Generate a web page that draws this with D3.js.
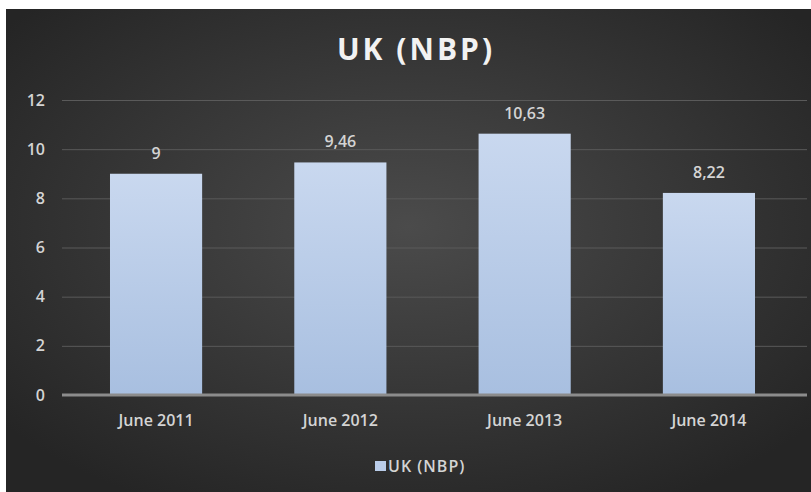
<!DOCTYPE html>
<html>
<head>
<meta charset="utf-8">
<script src="https://cdn.jsdelivr.net/npm/d3@7"></script>
<style>
  body { margin: 0; background: #fff; }
  svg { display: block; font-family: "Open Sans", "Noto Sans", sans-serif; }
</style>
</head>
<body>
<div id="grafico"></div>
<script>
// data
var categories = ["June 2011", "June 2012", "June 2013", "June 2014"];
var values = [9, 9.46, 10.63, 8.22];
var valueLabels = ["9", "9,46", "10,63", "8,22"];
var yTicks = [0, 2, 4, 6, 8, 10, 12];
var seriesName = "UK (NBP)";

var W = 811, H = 492;
var margin = {top: 100, right: 4, bottom: 97, left: 62};
var width = W - margin.left - margin.right,
    height = H - margin.top - margin.bottom;

var svg = d3.select("#grafico").append("svg")
  .attr("width", W).attr("height", H);

var defs = svg.append("defs");
var bg = defs.append("radialGradient").attr("id", "bg")
  .attr("cx", "50%").attr("cy", "45%").attr("r", "65%");
bg.append("stop").attr("offset", "0%").attr("stop-color", "#4b4b4b");
bg.append("stop").attr("offset", "100%").attr("stop-color", "#252525");

var barGrad = defs.append("linearGradient").attr("id", "barg")
  .attr("x1", 0).attr("y1", 0).attr("x2", 0).attr("y2", 1);
barGrad.append("stop").attr("offset", "0%").attr("stop-color", "#c9d8ef");
barGrad.append("stop").attr("offset", "100%").attr("stop-color", "#a8bfe0");

// background
svg.append("rect").attr("x", 6).attr("y", 9).attr("width", W - 6).attr("height", H - 9)
  .attr("fill", "url(#bg)");

var g = svg.append("g")
  .attr("transform", "translate(" + margin.left + "," + margin.top + ")");

var x = d3.scaleBand().domain(categories).range([1, 740]).paddingInner(0.5).paddingOuter(0.255);
var y = d3.scaleLinear().domain([0, 12]).range([height, 0]);

// grid
g.append("g")
  .call(d3.axisLeft(y).tickValues(yTicks).tickSize(-width).tickFormat(""))
  .call(function(s) {
    s.select(".domain").remove();
    s.selectAll("line").attr("stroke", "#5a5a5a").attr("stroke-width", 1);
  });

// y labels
g.append("g")
  .call(d3.axisLeft(y).tickValues(yTicks).tickSize(0).tickPadding(17))
  .call(function(s) {
    s.select(".domain").remove();
    s.selectAll("text").attr("fill", "#d4d4d4").attr("font-size", 16).attr("font-weight", 600)
      .attr("font-family", "Open Sans, sans-serif");
  });

// bars
g.selectAll(".bar").data(values).enter().append("rect")
  .attr("class", "bar")
  .attr("x", function(d, i) { return x(categories[i]); })
  .attr("y", function(d) { return y(d); })
  .attr("width", x.bandwidth())
  .attr("height", function(d) { return height - y(d); })
  .attr("fill", "url(#barg)");

// value labels
g.selectAll(".lbl").data(values).enter().append("text")
  .attr("x", function(d, i) { return x(categories[i]) + x.bandwidth() / 2; })
  .attr("y", function(d) { return y(d) - 15; })
  .attr("text-anchor", "middle")
  .attr("fill", "#d4d4d4")
  .attr("font-size", 16)
  .attr("font-weight", 600)
  .text(function(d, i) { return valueLabels[i]; });

// x axis
g.append("g")
  .attr("transform", "translate(0," + height + ")")
  .call(d3.axisBottom(x).tickSize(0).tickPadding(20))
  .call(function(s) {
    s.select(".domain").remove();
    s.selectAll("text").attr("fill", "#d4d4d4").attr("font-size", 16).attr("font-weight", 600)
      .attr("font-family", "Open Sans, sans-serif");
  });
g.append("line")
  .attr("x1", 0).attr("x2", width)
  .attr("y1", height).attr("y2", height)
  .attr("stroke", "#8c8c8c").attr("stroke-width", 3);

// title
svg.append("text")
  .attr("x", 416).attr("y", 60)
  .attr("text-anchor", "middle")
  .attr("fill", "#f2f2f2")
  .attr("font-size", 30)
  .attr("font-weight", 700)
  .attr("letter-spacing", 3)
  .text(seriesName);

// legend
var leg = svg.append("g").attr("transform", "translate(375,472)");
leg.append("rect").attr("x", 0).attr("y", -11).attr("width", 11).attr("height", 10)
  .attr("fill", "#b9cce9");
leg.append("text").attr("x", 13).attr("y", 0)
  .attr("fill", "#d4d4d4").attr("font-size", 16).attr("font-weight", 600)
  .attr("letter-spacing", 1)
  .text(seriesName);
</script>
</body>
</html>
